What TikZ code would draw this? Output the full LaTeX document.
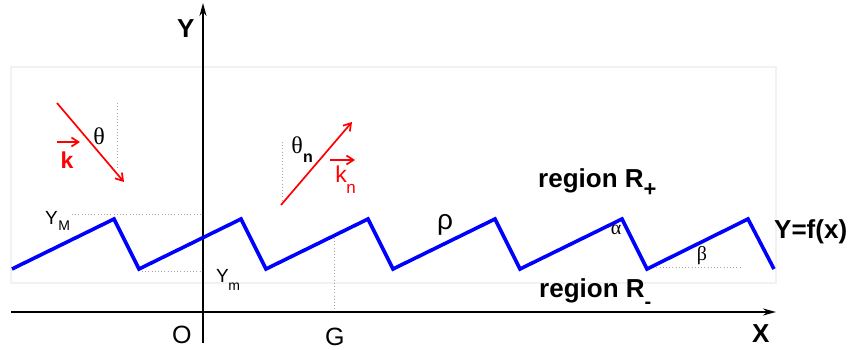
\documentclass[tikz,border=0pt]{standalone}
\usepackage{fontspec}
\setmainfont{Liberation Sans}
\newfontfamily\grk{Liberation Serif}
\usetikzlibrary{arrows.meta}
\tikzset{
  axisline/.style={line width=1.8pt,-{Stealth[length=13pt,width=7pt]}},
  wave/.style={blue,line width=3.6pt,line join=miter},
  ray/.style={red,line width=1.7pt,-{Straight Barb[length=7pt,width=9pt]}},
  guide/.style={gray!70,line width=0.9pt,dash pattern=on 1pt off 2.2pt},
  panel/.style={draw=black!5,line width=2.5pt},
  big/.style={inner sep=0pt,font=\fontsize{26}{28}\selectfont\bfseries},
  bigreg/.style={inner sep=0pt,font=\fontsize{25}{27}\selectfont},
  small/.style={inner sep=0pt,font=\fontsize{19}{21}\selectfont},
  sub/.style={inner sep=0pt,font=\fontsize{14}{16}\selectfont},
  greek/.style={inner sep=0pt,font=\fontsize{24}{26}\selectfont\grk},
  sgreek/.style={inner sep=0pt,font=\fontsize{20}{22}\selectfont\grk},
}
\begin{document}
\begin{tikzpicture}[x=1pt,y=-1pt]
\useasboundingbox (0,0) rectangle (851,350);
% panel
\draw[panel] (11,67) rectangle (776,283);
% axes
\coordinate (xs) at (11,312);
\coordinate (xe) at (776,312);
\coordinate (ys) at (203,343);
\coordinate (ye) at (203,3);
\draw[axisline] (xs) -- (xe);
\draw[axisline] (ys) -- (ye);
\node[big,anchor=base west] (ylab) at (177,38) {Y};
\node[big,anchor=base west] (xlab) at (752,342) {X};
\node[bigreg,anchor=base west] (olab) at (172,343) {O};
\node[bigreg,anchor=base west] (glab) at (325,345) {G};
% guides
\coordinate (gm1) at (72,214); \coordinate (gm2) at (202,214);
\draw[guide] (gm1) -- (gm2);
\coordinate (gn1) at (142,271); \coordinate (gn2) at (202,271);
\draw[guide] (gn1) -- (gn2);
\coordinate (gg1) at (334,238); \coordinate (gg2) at (334,311);
\draw[guide] (gg1) -- (gg2);
\coordinate (gb1) at (650,267); \coordinate (gb2) at (742,267);
\draw[guide] (gb1) -- (gb2);
\coordinate (gt1) at (117,103); \coordinate (gt2) at (117,168);
\draw[guide] (gt1) -- (gt2);
\coordinate (gu1) at (282,142); \coordinate (gu2) at (282,200);
\draw[guide] (gu1) -- (gu2);
% zigzag
\coordinate (z0) at (12,269);
\coordinate (p1) at (114,219); \coordinate (t1) at (139,269);
\coordinate (p2) at (241,219); \coordinate (t2) at (266,269);
\coordinate (p3) at (368,219); \coordinate (t3) at (393,269);
\coordinate (p4) at (495,219); \coordinate (t4) at (520,269);
\coordinate (p5) at (622,219); \coordinate (t5) at (647,269);
\coordinate (p6) at (748,219); \coordinate (z1) at (774,269);
\draw[wave] (z0) -- (p1) -- (t1) -- (p2) -- (t2) -- (p3) -- (t3) -- (p4) -- (t4) -- (p5) -- (t5) -- (p6) -- (z1);
% labels on curve
\node[small,anchor=base west] (ym) at (45,224) {Y};
\node[sub,anchor=base west] (ymsub) at (ym.base east) [yshift=-6pt] {M};
\node[small,anchor=base west] (ymin) at (216,282) {Y};
\node[sub,anchor=base west] (yminsub) at (ymin.base east) [yshift=-8pt,xshift=-1pt] {m};
\node[inner sep=0pt,font=\fontsize{28}{30}\selectfont] (rho) at (445,225) {ρ};
\node[sgreek] (alpha) at (616,230) {α};
\node[sgreek] (beta) at (702,256) {β};
\node[big,anchor=base west] (fx) at (774,238) {Y=f(x)};
\node[big,anchor=base west] (rp) at (538,187) {region R\raisebox{-9pt}{\fontsize{22}{24}\selectfont +}};
\node[big,anchor=base west] (rm) at (539,297) {region R\raisebox{-11pt}{\fontsize{20}{22}\selectfont -}};
% incident ray
\coordinate (a1) at (57,103); \coordinate (a2) at (124,182);
\draw[ray] (a1) -- (a2);
\node[greek] (th) at (99,136) {θ};
\coordinate (k1) at (57,142); \coordinate (k2) at (80,142);
\draw[ray] (k1) -- (k2);
\node[inner sep=0pt,font=\fontsize{23}{25}\selectfont\bfseries,text=red] (klab) at (67,160) {k};
% reflected ray
\coordinate (b1) at (281,205); \coordinate (b2) at (352,122);
\draw[ray] (b1) -- (b2);
\node[greek] (thn) at (297,145) {θ};
\node[sub,font=\fontsize{16}{18}\selectfont\bfseries] (thnsub) at (308,158) {n};
\coordinate (kn1) at (330,160); \coordinate (kn2) at (355,160);
\draw[ray] (kn1) -- (kn2);
\node[inner sep=0pt,font=\fontsize{23}{25}\selectfont,text=red] (knlab) at (341,174) {k};
\node[inner sep=0pt,font=\fontsize{17}{19}\selectfont,text=red] (knsub) at (351,189) {n};
\end{tikzpicture}
\end{document}
